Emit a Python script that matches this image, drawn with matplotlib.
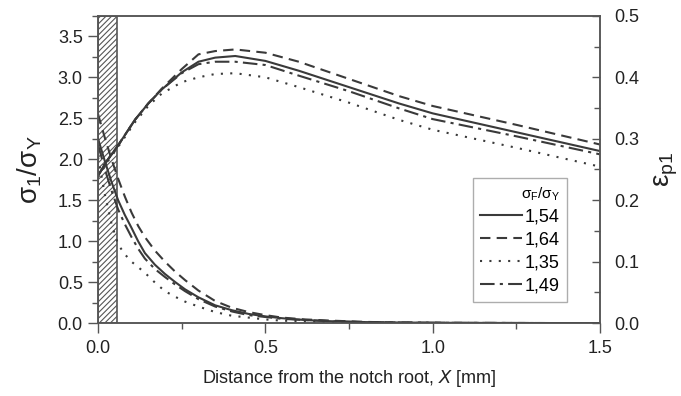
import numpy as np
import matplotlib
matplotlib.use('Agg')
import matplotlib.pyplot as plt
from matplotlib.patches import Rectangle

plt.rcParams['font.family'] = ['Liberation Sans', 'DejaVu Sans']
plt.rcParams['mathtext.fontset'] = 'dejavusans'
plt.rcParams['hatch.color'] = '#555555'
plt.rcParams['hatch.linewidth'] = 0.8

## Data
labels = ['1,54', '1,64', '1,35', '1,49']

# stress ratio sigma_1/sigma_Y (left axis)
x_sig = [0, 0.03, 0.06, 0.11, 0.15, 0.19, 0.25, 0.3, 0.35, 0.41, 0.5, 0.6, 0.75, 0.9, 1.0, 1.25, 1.5]
sig_154 = [1.80, 2.00, 2.17, 2.48, 2.68, 2.85, 3.06, 3.19, 3.24, 3.26, 3.20, 3.08, 2.88, 2.68, 2.56, 2.33, 2.10]
sig_164 = [1.80, 2.00, 2.17, 2.48, 2.68, 2.86, 3.10, 3.28, 3.32, 3.34, 3.30, 3.19, 2.98, 2.77, 2.65, 2.42, 2.18]
sig_135 = [1.78, 1.98, 2.15, 2.45, 2.65, 2.80, 2.94, 3.00, 3.04, 3.05, 3.00, 2.88, 2.69, 2.48, 2.36, 2.14, 1.91]
sig_149 = [1.80, 2.00, 2.17, 2.48, 2.68, 2.85, 3.05, 3.16, 3.19, 3.19, 3.15, 3.02, 2.83, 2.62, 2.49, 2.28, 2.06]

# plastic strain eps_p1 (right axis)
x_eps = [0, 0.02, 0.04, 0.06, 0.08, 0.1, 0.12, 0.14, 0.17, 0.2, 0.23, 0.26, 0.3, 0.35, 0.4,
         0.45, 0.5, 0.55, 0.62, 0.7, 0.8, 0.9, 1.05, 1.2, 1.5]
eps_154 = [0.300, 0.264, 0.230, 0.200, 0.176, 0.155, 0.133, 0.114, 0.095, 0.080, 0.067, 0.055,
           0.042, 0.029, 0.021, 0.015, 0.011, 0.008, 0.005, 0.003, 0.0017, 0.001, 0.0005, 0.0003, 0]
eps_164 = [0.340, 0.302, 0.267, 0.235, 0.206, 0.180, 0.158, 0.140, 0.118, 0.100, 0.084, 0.070,
           0.053, 0.036, 0.025, 0.018, 0.013, 0.009, 0.006, 0.004, 0.002, 0.001, 0.0005, 0.0003, 0]
eps_135 = [0.270, 0.210, 0.162, 0.128, 0.112, 0.100, 0.091, 0.082, 0.066, 0.052, 0.043, 0.035,
           0.027, 0.018, 0.012, 0.009, 0.006, 0.004, 0.003, 0.002, 0.001, 0.0005, 0.0002, 0, 0]
eps_149 = [0.290, 0.251, 0.216, 0.185, 0.161, 0.140, 0.121, 0.105, 0.088, 0.075, 0.063, 0.052,
           0.039, 0.027, 0.019, 0.013, 0.010, 0.007, 0.005, 0.003, 0.0015, 0.001, 0.0005, 0.0003, 0]

notch_width = 0.057

styles = ['-', (0, (5, 3)), (0, (1, 3.5)), (0, (7, 2.5, 1.5, 2.5))]
col = '#3a3a3a'
txt = '#222222'

fig = plt.figure(figsize=(6.81, 3.96), dpi=100)
ax = fig.add_axes([0.144, 0.184, 0.737, 0.776])
ax2 = ax.twinx()

sigs = [sig_154, sig_164, sig_135, sig_149]
epss = [eps_154, eps_164, eps_135, eps_149]
handles = []
for s, e, ls, lab in zip(sigs, epss, styles, labels):
    h, = ax.plot(x_sig, s, color=col, ls=ls, lw=1.5, label=lab)
    ax2.plot(x_eps, e, color=col, ls=ls, lw=1.5)
    handles.append(h)

# hatched notch region
ax.add_patch(Rectangle((0, 0), notch_width, 3.75, facecolor='white', edgecolor='#555555',
                       hatch='//////', lw=1.2, zorder=0))

ax.set_xlim(0, 1.5)
ax.set_ylim(0, 3.75)
ax2.set_ylim(0, 0.5)

ax.set_xticks([0, 0.5, 1.0, 1.5])
ax.set_xticks([0.25, 0.75, 1.25], minor=True)
ax.set_yticks(np.arange(0, 3.51, 0.5))
ax.set_yticks(np.arange(0.25, 3.76, 0.5), minor=True)
ax2.set_yticks(np.arange(0, 0.51, 0.1))
ax2.set_yticks(np.arange(0.05, 0.5, 0.1), minor=True)

fmt = matplotlib.ticker.FormatStrFormatter('%.1f')
ax.xaxis.set_major_formatter(fmt)
ax.yaxis.set_major_formatter(fmt)
ax2.yaxis.set_major_formatter(fmt)

ax.tick_params(axis='both', which='major', direction='out', length=7, width=1, labelsize=13,
               colors='#555555', labelcolor=txt, pad=4)
ax.tick_params(axis='x', which='major', pad=5)
ax.tick_params(axis='both', which='minor', direction='out', length=4, width=1, colors='#555555')
ax2.tick_params(axis='y', which='major', direction='in', length=6, width=1, labelsize=13,
                colors='#555555', labelcolor=txt, pad=10)
ax2.tick_params(axis='y', which='minor', direction='in', length=4, width=1, colors='#555555')

for a in (ax, ax2):
    for sp in a.spines.values():
        sp.set_color('#555555')
        sp.set_linewidth(1.1)

ax.set_xlabel(r'Distance from the notch root, $\mathit{X}$ [mm]', fontsize=13, color=txt, labelpad=8)
ax.set_ylabel(r'$\mathregular{\sigma_1/\sigma_Y}$', fontsize=20, color=txt, labelpad=10)
ax2.set_ylabel(r'$\mathregular{\varepsilon_{p1}}$', fontsize=20, color=txt, labelpad=10)

leg = ax2.legend(handles, labels, title=r'$\mathregular{\sigma_F/\sigma_Y}$', loc='lower right',
                 bbox_to_anchor=(0.952, 0.04), fontsize=13, title_fontsize=11,
                 frameon=True, fancybox=False, edgecolor='#999999', handlelength=2.3,
                 handletextpad=0.15, borderpad=0.4, labelspacing=0.33, alignment='right')
leg.get_frame().set_linewidth(1.0)

plt.savefig('out.png', dpi=100)
